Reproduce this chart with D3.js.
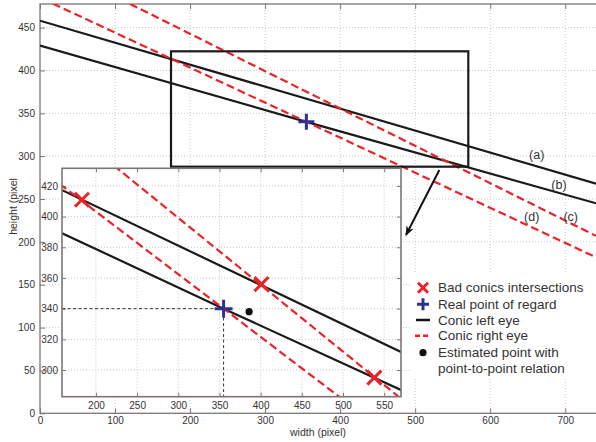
<!DOCTYPE html>
<html><head><meta charset="utf-8">
<script src="https://cdn.jsdelivr.net/npm/d3@7"></script>
<style>
body{margin:0;background:#fff;}
text{font-family:"Liberation Sans",Arial,Helvetica,sans-serif;fill:#333;}
</style></head>
<body><svg id="c" width="596" height="442"></svg>
<script>
// ---------- data ----------
const xTicks = [0,100,200,300,400,500,600,700];
const yTicks = [0,50,100,150,200,250,300,350,400,450];
const insetXTicks = [200,250,300,350,400,450,500,550];
const insetYTicks = [300,320,340,360,380,400,420];
const xDomain = [0,741];
const yDomain = [0,477.5];
const insetXDomain = [158.8,570.4];
const insetYDomain = [282.6,431.5];
// conics (appear as straight lines at this scale)
const conicA = [[0,458],[741,268]];              // (a) left eye
const conicB = [[0,429],[355,340],[741,245]];    // (b) left eye
const conicC = [[120,477.6],[741,207]];          // (c) right eye
const conicD = [[17,478],[355,340],[741,182]];   // (d) right eye
const conicLabels = ["(a)","(b)","(c)","(d)"];
const conicLabelPos = [[662,301.4],[691.7,266.4],[707.3,229.4],[655.3,229.4]];
const badIntersections = [[183,411],[401,356],[538,295]];
const realPoint = [355,340];
const estimatedPoint = [386,338];
const zoomBox = [[174.6,422.3],[570.8,287.7]];
const arrowPts = [[532.2,283.8],[487.8,208]];
const legendLabels = ["Bad conics intersections","Real point of regard","Conic left eye","Conic right eye","Estimated point with","point-to-point relation"];

// ---------- setup ----------
const svg = d3.select("#c");
const RED = "#ec2227", BLUE = "#2e3192", FRAME = "#7d7575";
const M = {l:40, r:596, t:4, b:413.3};
const x = d3.scaleLinear().domain(xDomain).range([M.l,M.r]);
const y = d3.scaleLinear().domain(yDomain).range([M.b,M.t]);

svg.append("defs").append("clipPath").attr("id","mainClip")
  .append("rect").attr("x",M.l).attr("y",M.t).attr("width",M.r-M.l+10).attr("height",M.b-M.t);
svg.select("defs").append("marker").attr("id","arr").attr("viewBox","0 0 10 10")
  .attr("refX",9).attr("refY",5).attr("markerWidth",5).attr("markerHeight",5).attr("orient","auto")
  .append("path").attr("d","M0,1 L10,5 L0,9 L3,5 Z").attr("fill","#111");

// grid
const g = svg.append("g");
g.selectAll(".gx").data(xTicks.slice(1)).join("line")
  .attr("x1",d=>x(d)).attr("x2",d=>x(d)).attr("y1",M.t).attr("y2",M.b)
  .attr("stroke","#c8c8c8").attr("stroke-dasharray","1,2");
g.selectAll(".gy").data(yTicks.slice(1)).join("line")
  .attr("x1",M.l).attr("x2",M.r).attr("y1",d=>y(d)).attr("y2",d=>y(d))
  .attr("stroke","#c8c8c8").attr("stroke-dasharray","1,2");

// axes
const ax = svg.append("g");
const xAxisB = d3.axisBottom(x).tickValues(xTicks).tickSize(-5).tickPadding(4).tickFormat(d3.format("d"));
const yAxisL = d3.axisLeft(y).tickValues(yTicks).tickSize(-5).tickPadding(5).tickFormat(d3.format("d"));
ax.append("g").attr("transform",`translate(0,${M.b})`).call(xAxisB);
ax.append("g").attr("transform",`translate(${M.l},0)`).call(yAxisL);
ax.append("g").attr("transform",`translate(0,${M.t})`).call(d3.axisTop(x).tickValues(xTicks).tickSize(-5).tickFormat(""));
ax.selectAll(".domain").remove();
ax.selectAll("line").attr("stroke",FRAME);
ax.selectAll("text").style("font-size","10px").attr("fill","#333");
svg.append("rect").attr("x",M.l).attr("y",M.t).attr("width",M.r-M.l+10).attr("height",M.b-M.t)
  .attr("fill","none").attr("stroke",FRAME).attr("stroke-width",1.3);

// axis labels
svg.append("text").attr("x",(M.l+M.r)/2).attr("y",436).attr("text-anchor","middle")
  .style("font-size","10.5px").text("width (pixel)");
svg.append("text").attr("transform",`translate(16.5,206.5) rotate(-90)`).attr("text-anchor","middle")
  .style("font-size","10.5px").text("height (pixel");

// conic lines (main)
function drawConics(parent, xs, ys, w){
  const line = d3.line().x(d=>xs(d[0])).y(d=>ys(d[1]));
  [conicA,conicB].forEach(c=>parent.append("path").attr("d",line(c)).attr("fill","none")
    .attr("stroke","#1a1a1a").attr("stroke-width",w));
  [conicC,conicD].forEach(c=>parent.append("path").attr("d",line(c)).attr("fill","none")
    .attr("stroke",RED).attr("stroke-width",w).attr("stroke-dasharray","8,4"));
}
const main = svg.append("g").attr("clip-path","url(#mainClip)");
drawConics(main, x, y, 2.2);

// plus marker
function plus(parent, cx, cy, s, w){
  parent.append("path").attr("d",`M${cx-s},${cy}H${cx+s}M${cx},${cy-s}V${cy+s}`)
    .attr("stroke",BLUE).attr("stroke-width",w).attr("fill","none");
}
plus(svg, x(realPoint[0]), y(realPoint[1]), 8, 3);

// conic labels
svg.selectAll(".cl").data(conicLabels).join("text")
  .attr("x",(d,i)=>x(conicLabelPos[i][0])).attr("y",(d,i)=>y(conicLabelPos[i][1])+4.5)
  .attr("text-anchor","middle").style("font-size","12.5px").text(d=>d);

// zoom box
svg.append("rect").attr("x",x(zoomBox[0][0])).attr("y",y(zoomBox[0][1]))
  .attr("width",x(zoomBox[1][0])-x(zoomBox[0][0])).attr("height",y(zoomBox[1][1])-y(zoomBox[0][1]))
  .attr("fill","none").attr("stroke","#1a1a1a").attr("stroke-width",2.2);

// arrow
svg.append("line").attr("x1",x(arrowPts[0][0])).attr("y1",y(arrowPts[0][1]))
  .attr("x2",x(arrowPts[1][0])).attr("y2",y(arrowPts[1][1]))
  .attr("stroke","#111").attr("stroke-width",2).attr("marker-end","url(#arr)");

// ---------- inset ----------
const I = {l:62, r:401, t:168.3, b:396.7};
const xi = d3.scaleLinear().domain(insetXDomain).range([I.l,I.r]);
const yi = d3.scaleLinear().domain(insetYDomain).range([I.b,I.t]);
svg.select("defs").append("clipPath").attr("id","insClip")
  .append("rect").attr("x",I.l).attr("y",I.t).attr("width",I.r-I.l).attr("height",I.b-I.t);
const ins = svg.append("g");
ins.append("rect").attr("x",I.l).attr("y",I.t).attr("width",I.r-I.l).attr("height",I.b-I.t).attr("fill","#fff");
ins.selectAll(".igx").data(insetXTicks).join("line")
  .attr("x1",d=>xi(d)).attr("x2",d=>xi(d)).attr("y1",I.t).attr("y2",I.b)
  .attr("stroke","#c8c8c8").attr("stroke-dasharray","1,2");
ins.selectAll(".igy").data(insetYTicks).join("line")
  .attr("x1",I.l).attr("x2",I.r).attr("y1",d=>yi(d)).attr("y2",d=>yi(d))
  .attr("stroke","#c8c8c8").attr("stroke-dasharray","1,2");
const iax = ins.append("g");
iax.append("g").attr("transform",`translate(0,${I.b})`).call(d3.axisBottom(xi).tickValues(insetXTicks).tickSize(-4).tickPadding(5));
iax.append("g").attr("transform",`translate(${I.l},0)`).call(d3.axisLeft(yi).tickValues(insetYTicks).tickSize(-4).tickPadding(4));
iax.append("g").attr("transform",`translate(${I.r},0)`).call(d3.axisRight(yi).tickValues(insetYTicks).tickSize(-4).tickFormat(""));
iax.append("g").attr("transform",`translate(0,${I.t})`).call(d3.axisTop(xi).tickValues(insetXTicks).tickSize(-4).tickFormat(""));
iax.selectAll(".domain").remove();
iax.selectAll("line").attr("stroke",FRAME);
iax.selectAll("text").style("font-size","10px").attr("fill","#333");

const inner = ins.append("g").attr("clip-path","url(#insClip)");
drawConics(inner, xi, yi, 2.2);
// guide lines to real point
inner.append("path")
  .attr("d",`M${I.l},${yi(realPoint[1])}H${xi(realPoint[0])}V${I.b}`)
  .attr("fill","none").attr("stroke","#333").attr("stroke-width",1).attr("stroke-dasharray","3,2.5");
// bad intersections
inner.selectAll(".bx").data(badIntersections).join("path")
  .attr("d",d=>{const cx=xi(d[0]),cy=yi(d[1]),s=7;return `M${cx-s},${cy-s}L${cx+s},${cy+s}M${cx-s},${cy+s}L${cx+s},${cy-s}`;})
  .attr("stroke",RED).attr("stroke-width",3).attr("fill","none");
plus(inner, xi(realPoint[0]), yi(realPoint[1]), 9, 3);
inner.append("circle").attr("cx",xi(estimatedPoint[0])).attr("cy",yi(estimatedPoint[1])).attr("r",3.6).attr("fill","#111");
ins.append("rect").attr("x",I.l).attr("y",I.t).attr("width",I.r-I.l).attr("height",I.b-I.t)
  .attr("fill","none").attr("stroke",FRAME).attr("stroke-width",1.6);

// ---------- legend ----------
const L = svg.append("g");
L.append("rect").attr("x",412).attr("y",272).attr("width",190).attr("height",106).attr("fill","#fff");
const rowY = [287.7,304.3,320,335.7,352.7,368.3];
const mx = 423;
L.selectAll("text").data(legendLabels).join("text")
  .attr("x",438).attr("y",(d,i)=>rowY[i]+4.7).style("font-size","13.5px").attr("fill","#222").text(d=>d);
L.append("path").attr("d",`M${mx-5},${rowY[0]-5}L${mx+5},${rowY[0]+5}M${mx-5},${rowY[0]+5}L${mx+5},${rowY[0]-5}`)
  .attr("stroke",RED).attr("stroke-width",3);
plus(L, mx, rowY[1], 6, 3);
L.append("line").attr("x1",mx-7).attr("x2",mx+7).attr("y1",rowY[2]).attr("y2",rowY[2]).attr("stroke","#111").attr("stroke-width",2.5);
L.append("line").attr("x1",mx-8).attr("x2",mx+8).attr("y1",rowY[3]).attr("y2",rowY[3]).attr("stroke",RED).attr("stroke-width",2.5).attr("stroke-dasharray","5,3");
L.append("circle").attr("cx",mx).attr("cy",rowY[4]).attr("r",3.6).attr("fill","#111");
</script></body></html>
